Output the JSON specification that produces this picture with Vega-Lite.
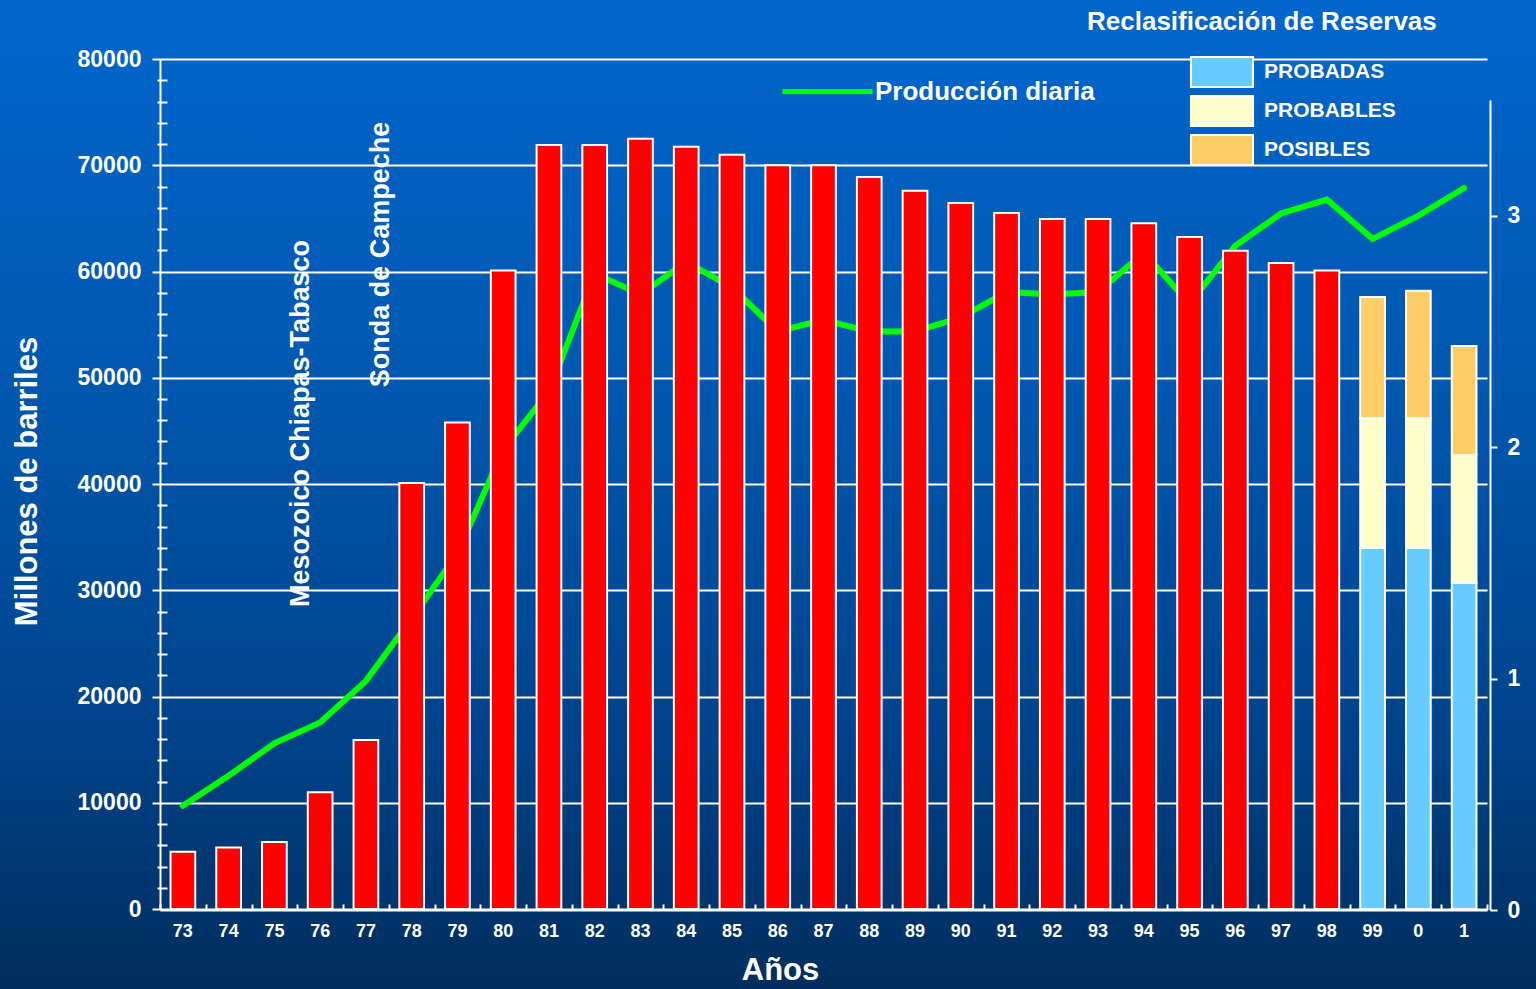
{
  "$schema": "https://vega.github.io/schema/vega-lite/v6.json",
  "width": 1536,
  "height": 989,
  "autosize": {"type": "none"},
  "padding": 0,
  "background": "#004A94",
  "view": {
    "stroke": null,
    "fill": {
      "gradient": "linear",
      "x1": 0, "y1": 0, "x2": 0, "y2": 1,
      "stops": [
        {"offset": 0, "color": "#0066CC"},
        {"offset": 0.4, "color": "#0057AE"},
        {"offset": 0.75, "color": "#00428A"},
        {"offset": 1, "color": "#002D5C"}
      ]
    }
  },
  "title": {
    "text": "Reclasificación de Reservas",
    "anchor": "start",
    "orient": "top",
    "offset": -35,
    "dx": 1087,
    "font": "Liberation Sans",
    "fontSize": 26,
    "fontWeight": "bold",
    "color": "white"
  },
  "config": {
    "font": "Liberation Sans",
    "axis": {
      "labelFont": "Liberation Sans",
      "labelFontWeight": "bold",
      "labelColor": "white",
      "titleFont": "Liberation Sans",
      "titleFontWeight": "bold",
      "titleColor": "white",
      "tickColor": "white",
      "tickWidth": 2,
      "domainColor": "white",
      "domainWidth": 2,
      "grid": false
    },
    "legend": {
      "labelFont": "Liberation Sans",
      "labelFontWeight": "bold",
      "labelColor": "white",
      "labelLimit": 0,
      "title": null
    }
  },
  "datasets": {
    "produccion": [
      {"anio": "73", "mbd": 0.45},
      {"anio": "74", "mbd": 0.58},
      {"anio": "75", "mbd": 0.72},
      {"anio": "76", "mbd": 0.81},
      {"anio": "77", "mbd": 0.99},
      {"anio": "78", "mbd": 1.26},
      {"anio": "79", "mbd": 1.54},
      {"anio": "80", "mbd": 1.99},
      {"anio": "81", "mbd": 2.24},
      {"anio": "82", "mbd": 2.75},
      {"anio": "83", "mbd": 2.66},
      {"anio": "84", "mbd": 2.80},
      {"anio": "85", "mbd": 2.69},
      {"anio": "86", "mbd": 2.50},
      {"anio": "87", "mbd": 2.55},
      {"anio": "88", "mbd": 2.50},
      {"anio": "89", "mbd": 2.50},
      {"anio": "90", "mbd": 2.56},
      {"anio": "91", "mbd": 2.67},
      {"anio": "92", "mbd": 2.66},
      {"anio": "93", "mbd": 2.67},
      {"anio": "94", "mbd": 2.84},
      {"anio": "95", "mbd": 2.62},
      {"anio": "96", "mbd": 2.87},
      {"anio": "97", "mbd": 3.01},
      {"anio": "98", "mbd": 3.07},
      {"anio": "99", "mbd": 2.90},
      {"anio": "0", "mbd": 3.00},
      {"anio": "1", "mbd": 3.12}
    ],
    "reservas": [
      {"anio": "73", "total": 5400},
      {"anio": "74", "total": 5800},
      {"anio": "75", "total": 6300},
      {"anio": "76", "total": 11000},
      {"anio": "77", "total": 15900},
      {"anio": "78", "total": 40100},
      {"anio": "79", "total": 45800},
      {"anio": "80", "total": 60100},
      {"anio": "81", "total": 71900},
      {"anio": "82", "total": 71900},
      {"anio": "83", "total": 72500},
      {"anio": "84", "total": 71750},
      {"anio": "85", "total": 71000},
      {"anio": "86", "total": 70000},
      {"anio": "87", "total": 70000},
      {"anio": "88", "total": 68900},
      {"anio": "89", "total": 67600},
      {"anio": "90", "total": 66450},
      {"anio": "91", "total": 65500},
      {"anio": "92", "total": 64950},
      {"anio": "93", "total": 64950},
      {"anio": "94", "total": 64550},
      {"anio": "95", "total": 63250},
      {"anio": "96", "total": 61950},
      {"anio": "97", "total": 60800},
      {"anio": "98", "total": 60100}
    ],
    "reclasificacion": [
      {"anio": "99", "tipo": "PROBADAS", "nivel": 1, "valor": 34000},
      {"anio": "99", "tipo": "PROBABLES", "nivel": 2, "valor": 12200},
      {"anio": "99", "tipo": "POSIBLES", "nivel": 3, "valor": 11400},
      {"anio": "0", "tipo": "PROBADAS", "nivel": 1, "valor": 34000},
      {"anio": "0", "tipo": "PROBABLES", "nivel": 2, "valor": 12200},
      {"anio": "0", "tipo": "POSIBLES", "nivel": 3, "valor": 12000},
      {"anio": "1", "tipo": "PROBADAS", "nivel": 1, "valor": 30700},
      {"anio": "1", "tipo": "PROBABLES", "nivel": 2, "valor": 12000},
      {"anio": "1", "tipo": "POSIBLES", "nivel": 3, "valor": 10300}
    ],
    "cuencas": [
      {"anio": "76", "valor": 45700, "texto": "Mesozoico Chiapas-Tabasco"},
      {"anio": "77", "valor": 61600, "texto": "Sonda de Campeche"}
    ]
  },
  "layer": [
    {
      "data": {"name": "produccion"},
      "mark": {"type": "line", "strokeWidth": 6, "strokeCap": "round", "strokeJoin": "miter"},
      "encoding": {
        "x": {"field": "anio", "type": "ordinal", "axis": null},
        "y": {
          "field": "mbd",
          "type": "quantitative",
          "scale": {"domain": [0, 3.5], "range": [910, 100], "nice": false, "zero": true},
          "axis": {
            "orient": "right",
            "offset": -46,
            "values": [0, 1, 2, 3],
            "format": "d",
            "title": null,
            "labelFontSize": 23,
            "labelPadding": 10,
            "tickSize": 7,
            "grid": false
          }
        },
        "color": {
          "datum": "Producción diaria",
          "scale": {"range": ["#00FF00"]},
          "legend": {
            "orient": "none",
            "legendX": 780,
            "legendY": 44,
            "symbolType": "stroke",
            "symbolSize": 8100,
            "symbolStrokeWidth": 5,
            "labelFontSize": 26,
            "labelOffset": 0,
            "encode": {"symbols": {"update": {"stroke": {"value": "#80FF66"}}}}
          }
        },
        "order": {"value": null}
      }
    },
    {
      "data": {"name": "reservas"},
      "mark": {"type": "bar", "color": "#FF0000", "stroke": "white", "strokeWidth": 2, "width": {"band": 0.54}},
      "encoding": {
        "x": {
          "field": "anio",
          "type": "ordinal",
          "scale": {
            "domain": ["73", "74", "75", "76", "77", "78", "79", "80", "81", "82", "83", "84", "85", "86", "87", "88", "89", "90", "91", "92", "93", "94", "95", "96", "97", "98", "99", "0", "1"],
            "range": [160, 1487],
            "paddingInner": 0,
            "paddingOuter": 0
          },
          "axis": {
            "orient": "bottom",
            "offset": -79,
            "title": "Años",
            "titleFontSize": 31,
            "titleX": 780,
            "titleY": 60,
            "titleBaseline": "middle",
            "labelFontSize": 18,
            "labelAngle": 0,
            "labelPadding": 18,
            "tickSize": -6,
            "domain": true
          }
        },
        "y": {
          "field": "total",
          "type": "quantitative",
          "scale": {"domain": [0, 80000], "range": [909, 59], "nice": false, "zero": true},
          "axis": {
            "orient": "left",
            "offset": -160,
            "values": [0, 10000, 20000, 30000, 40000, 50000, 60000, 70000, 80000],
            "format": "d",
            "title": "Millones de barriles",
            "titleFontSize": 31,
            "titleX": -133,
            "titleY": 481,
            "titleAngle": 270,
            "titleAlign": "center",
            "titleBaseline": "middle",
            "labelFontSize": 23,
            "labelPadding": 11,
            "tickSize": 8,
            "grid": true,
            "gridColor": "white",
            "gridWidth": 2,
            "gridOpacity": 1
          }
        }
      }
    },
    {
      "data": {"name": "reclasificacion"},
      "mark": {"type": "bar", "stroke": "white", "strokeWidth": 2, "width": {"band": 0.54}, "opacity": 1},
      "encoding": {
        "x": {
          "field": "anio",
          "type": "ordinal",
          "axis": {
            "orient": "bottom",
            "offset": -79,
            "tickBand": "extent",
            "labels": false,
            "domain": false,
            "title": null,
            "tickSize": -6
          }
        },
        "y": {
          "field": "valor",
          "type": "quantitative",
          "stack": "zero",
          "scale": {"domain": [0, 80000], "range": [909, 59], "nice": false, "zero": true},
          "axis": {
            "orient": "left",
            "offset": -167,
            "values": [2000, 4000, 6000, 8000, 12000, 14000, 16000, 18000, 22000, 24000, 26000, 28000, 32000, 34000, 36000, 38000, 42000, 44000, 46000, 48000, 52000, 54000, 56000, 58000, 62000, 64000, 66000, 68000, 72000, 74000, 76000, 78000],
            "labels": false,
            "domain": false,
            "grid": false,
            "title": null,
            "tickSize": 10
          }
        },
        "color": {
          "field": "tipo",
          "type": "nominal",
          "scale": {"domain": ["PROBADAS", "PROBABLES", "POSIBLES"], "range": ["#66CCFF", "#FFFFCC", "#FFCC66"]},
          "legend": {
            "orient": "none",
            "legendX": 1206,
            "legendY": 56,
            "symbolType": "M-2.07,-1H2.07V1H-2.07Z",
            "symbolSize": 900,
            "symbolStrokeColor": "white",
            "symbolStrokeWidth": 2,
            "symbolOpacity": 1,
            "labelFontSize": 21,
            "labelOffset": 26,
            "rowPadding": 1,
            "encode": {
              "symbols": {
                "enter": {
                  "fill": {"signal": "datum.value === 'PROBADAS' ? '#00CCFF' : datum.value === 'PROBABLES' ? '#FFFFCC' : '#FFCC66'"}
                },
                "update": {
                  "fill": {"signal": "datum.value === 'PROBADAS' ? '#00CCFF' : datum.value === 'PROBABLES' ? '#FFFFCC' : '#FFCC66'"},
                  "stroke": {"value": "white"}
                }
              }
            }
          }
        },
        "order": {"field": "nivel", "type": "quantitative"}
      }
    },
    {
      "data": {"name": "cuencas"},
      "transform": [{"filter": "datum.anio === '76'"}],
      "mark": {"type": "text", "angle": 270, "align": "center", "baseline": "middle", "font": "Liberation Sans", "fontSize": 27, "fontWeight": "bold", "color": "white"},
      "encoding": {
        "x": {"field": "anio", "type": "ordinal", "bandPosition": 0.085, "axis": null},
        "y": {"field": "valor", "type": "quantitative", "scale": {"domain": [0, 80000], "range": [909, 59], "nice": false}, "axis": null},
        "text": {"field": "texto"}
      }
    },
    {
      "data": {"name": "cuencas"},
      "transform": [{"filter": "datum.anio === '77'"}],
      "mark": {"type": "text", "angle": 270, "align": "center", "baseline": "middle", "font": "Liberation Sans", "fontSize": 27, "fontWeight": "bold", "color": "white"},
      "encoding": {
        "x": {"field": "anio", "type": "ordinal", "bandPosition": 0.83, "axis": null},
        "y": {"field": "valor", "type": "quantitative", "scale": {"domain": [0, 80000], "range": [909, 59], "nice": false}, "axis": null},
        "text": {"field": "texto"}
      }
    }
  ],
  "resolve": {
    "scale": {"y": "independent", "color": "independent"},
    "axis": {"x": "independent", "y": "independent"},
    "legend": {"color": "independent"}
  }
}
